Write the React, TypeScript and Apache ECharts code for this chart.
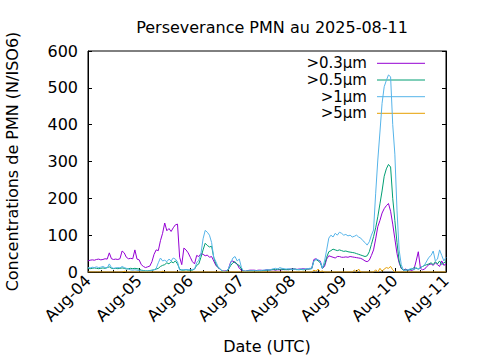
import React, { useEffect, useRef } from "react";
import * as echarts from "echarts";

const TITLE = "Perseverance PMN au 2025-08-11";
const X_LABELS = ["Aug-04", "Aug-05", "Aug-06", "Aug-07", "Aug-08", "Aug-09", "Aug-10", "Aug-11"];
const SERIES_NAMES = [">0.3µm", ">0.5µm", ">1µm", ">5µm"];
const COLORS = ["#9400d3", "#009e73", "#56b4e9", "#e69f00"];

// hourly values, hour 0 = Aug-04 00:00 UTC
const P03 = [
  30, 32, 33, 32, 34, 35, 33, 34, 36, 35,
  52, 36, 34, 35, 34, 36, 57, 52, 40, 36,
  37, 36, 60, 35, 33, 20, 15, 12, 14, 16,
  28, 48, 60, 58, 85, 105, 133, 112, 118, 110,
  120, 128, 130, 40, 20, 65, 60, 52, 40, 28,
  22, 45, 42, 50, 48, 44, 46, 40, 42, 30,
  18, 12, 8, 2, 3, 3, 10, 28, 30, 25,
  22, 10, 5, 3, 2, 4, 5, 5, 5, 4,
  5, 5, 4, 5, 6, 5, 6, 6, 5, 6,
  6, 6, 7, 6, 7, 8, 8, 8, 7, 8,
  8, 9, 8, 8, 9, 10, 34, 36, 32, 30,
  10, 15, 35, 44, 42, 40, 38, 42, 42, 40,
  40, 41, 40, 42, 41, 40, 39, 38, 37, 34,
  30, 28, 32, 45, 60, 90, 123, 140, 160, 172,
  180, 186, 165, 130, 90, 50, 25, 10, 5, 8,
  5, 6, 4, 8, 30, 55, 10, 6, 8, 15,
  20, 22, 18, 25, 20, 15, 30, 18, 22,
];
const P05 = [
  10, 9, 10, 11, 10, 9, 10, 11, 10, 12,
  14, 10, 9, 10, 9, 10, 11, 10, 8, 9,
  10, 9, 10, 9, 8, 5, 4, 3, 3, 4,
  5, 6, 8, 10, 15, 18, 20, 25, 22, 28,
  25, 30, 22, 8, 5, 5, 6, 5, 5, 5,
  8, 18, 22, 40, 60, 78, 72, 68, 70, 40,
  22, 12, 8, 3, 1, 2, 8, 18, 25, 28,
  20, 18, 8, 2, 2, 3, 3, 3, 3, 3,
  3, 3, 4, 4, 5, 5, 6, 7, 6, 8,
  7, 8, 6, 7, 6, 7, 8, 8, 7, 6,
  7, 6, 7, 8, 8, 9, 30, 34, 30, 25,
  10, 20, 40, 55, 58, 62, 60, 58, 60, 58,
  56, 57, 55, 54, 53, 52, 50, 48, 46, 44,
  42, 44, 55, 75, 96, 120, 150, 185, 220, 260,
  280, 292, 285, 200, 140, 80, 30, 10, 5, 6,
  5, 6, 8, 12, 10, 8, 12, 15, 18, 20,
  22, 25, 20, 28, 22, 30, 20, 25, 28,
];
const P1 = [
  12, 11, 13, 12, 14, 12, 13, 15, 12, 11,
  22, 12, 10, 11, 12, 11, 15, 12, 10, 8,
  6, 5, 6, 5, 4, 3, 3, 2, 3, 3,
  4, 6, 10, 25, 38, 30, 32, 28, 35, 30,
  38, 35, 28, 5, 6, 6, 7, 6, 6, 7,
  8, 25, 32, 50, 90, 113, 108, 100, 80, 40,
  28, 15, 8, 2, 1, 3, 10, 25, 38, 42,
  30, 35, 12, 2, 2, 3, 3, 3, 4, 3,
  4, 4, 5, 5, 6, 5, 7, 9, 10, 8,
  12, 10, 9, 8, 9, 8, 7, 8, 6, 7,
  8, 7, 8, 9, 10, 10, 30, 35, 33, 28,
  10, 30, 60, 92, 100, 95, 105, 100, 108, 105,
  100, 102, 98, 100, 95, 97, 100, 95, 92, 85,
  80, 73, 82, 100, 114, 214, 304, 380, 458, 503,
  520, 535, 530, 400, 320, 168, 60, 20, 5, 4,
  6, 8, 10, 5, 12, 8, 10, 15, 20, 30,
  40, 45, 57, 30, 35, 60, 45, 30, 40,
];
const P5 = [
  0, 0, 0, 0, 0, 0, 0, 0, 0, 0,
  0, 0, 0, 0, 0, 0, 0, 2, 0, 0,
  0, 0, 0, 0, 0, 0, 0, 0, 0, 0,
  0, 0, 0, 0, 0, 2, 0, 0, 0, 0,
  0, 0, 0, 0, 0, 0, 0, 0, 0, 0,
  0, 0, 0, 0, 0, 0, 0, 0, 0, 0,
  0, 0, 0, 0, 0, 0, 0, 0, 0, 0,
  0, 0, 0, 0, 0, 0, 0, 0, 0, 0,
  0, 0, 0, 0, 0, 0, 0, 0, 0, 0,
  0, 0, 0, 0, 0, 0, 0, 0, 0, 0,
  0, 0, 0, 0, 0, 0, 5, 2, 8, 1,
  3, 0, 0, 0, 0, 0, 0, 0, 0, 0,
  0, 0, 0, 0, 0, 5, 0, 8, 0, 0,
  0, 0, 0, 0, 0, 6, 0, 10, 2, 8,
  12, 10, 15, 6, 0, 0, 0, 0, 0, 0,
  0, 0, 0, 0, 0, 0, 0, 0, 0, 0,
  0, 0, 0, 0, 0, 0, 0, 0, 0,
];
const SERIES_VALUES = [P03, P05, P1, P5];

const FONT = "DejaVu Sans";

export default function App() {
  const ref = useRef<HTMLDivElement>(null);
  useEffect(() => {
    if (!ref.current) return;
    const chart = echarts.init(ref.current, null, { renderer: "svg" });
    const legendX = 367;
    const legendY = [63.3, 80, 96.7, 113.3];
    const graphic: any[] = [];
    SERIES_NAMES.forEach((n, i) => {
      graphic.push({
        type: "text",
        x: legendX,
        y: legendY[i],
        style: {
          text: n,
          fill: "#000",
          fontSize: 15,
          lineHeight: 14,
          fontFamily: FONT,
          align: "right",
          verticalAlign: "middle",
        },
      });
      graphic.push({
        type: "line",
        shape: { x1: 377, y1: legendY[i], x2: 425, y2: legendY[i] },
        style: { stroke: COLORS[i], lineWidth: 1 },
      });
    });
    const axisCommon = {
      axisLine: { show: true, lineStyle: { color: "#000", width: 1 } },
      splitLine: { show: false },
    };
    chart.setOption({
      animation: false,
      backgroundColor: "#fff",
      textStyle: { fontFamily: FONT },
      title: {
        text: TITLE,
        left: 267,
        top: 14,
        textAlign: "center",
        textStyle: { fontSize: 16, fontWeight: "normal", color: "#000", fontFamily: FONT },
      },
      grid: {
        left: 88,
        right: 34,
        top: 51,
        bottom: 88,
        show: true,
        borderColor: "#000",
        borderWidth: 1,
        containLabel: false,
        outerBoundsMode: "none",
      },
      xAxis: [
        {
          type: "value",
          min: 0,
          max: 168,
          interval: 24,
          ...axisCommon,
          axisTick: { show: true, inside: true, length: 4, lineStyle: { color: "#000" } },
          minorTick: { show: true, splitNumber: 4, length: 2, lineStyle: { color: "#000" } },
          axisLabel: {
            rotate: 45,
            fontSize: 16,
            color: "#000",
            fontFamily: FONT,
            margin: 6,
            formatter: (v: number) => X_LABELS[Math.round(v / 24)] ?? "",
          },
          name: "Date (UTC)",
          nameLocation: "middle",
          nameGap: 66,
          nameTextStyle: { fontSize: 16, color: "#000", fontFamily: FONT },
        },
      ],
      yAxis: [
        {
          type: "value",
          min: 0,
          max: 600,
          interval: 100,
          ...axisCommon,
          axisTick: { show: true, inside: true, length: 4, lineStyle: { color: "#000" } },
          axisLabel: { fontSize: 16, color: "#000", fontFamily: FONT, margin: 10 },
          name: "Concentrations de PMN (N/ISO6)",
          nameLocation: "middle",
          nameGap: 68,
          nameTextStyle: { fontSize: 16, color: "#000", fontFamily: FONT },
        },
        {
          type: "value",
          position: "right",
          min: 0,
          max: 600,
          interval: 100,
          ...axisCommon,
          axisTick: { show: true, inside: true, length: 4, lineStyle: { color: "#000" } },
          axisLabel: { show: false },
        },
      ],
      series: SERIES_NAMES.map((name, i) => ({
        name,
        type: "line",
        data: SERIES_VALUES[i].map((v, h) => [h, v]),
        showSymbol: false,
        symbol: "none",
        lineStyle: { color: COLORS[i], width: 1 },
        itemStyle: { color: COLORS[i] },
        xAxisIndex: 0,
        yAxisIndex: 0,
      })),
      graphic,
    });
    return () => chart.dispose();
  }, []);
  return (
    <div
      ref={ref}
      style={{ position: "fixed", left: 0, top: 0, width: 480, height: 360 }}
    />
  );
}
